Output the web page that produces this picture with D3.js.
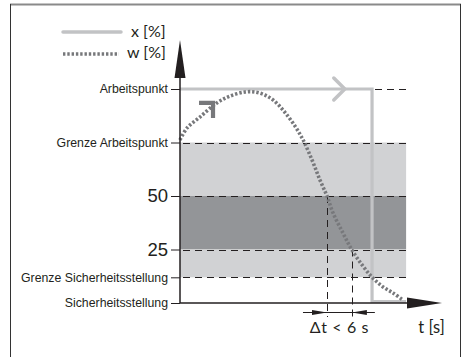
<!DOCTYPE html>
<html>
<head>
<meta charset="utf-8">
<script src="https://cdn.jsdelivr.net/npm/d3@7"></script>
<style>
  html,body{margin:0;padding:0;background:#fff;}
  svg{display:block;font-family:"Lato","Open Sans",sans-serif;}
</style>
</head>
<body>
<div id="chart"></div>
<script>
// levels on the y axis (percent of stroke)
const levelValues = [100, 75, 50, 25, 12, 0];
const levelLabels = ["Arbeitspunkt","Grenze Arbeitspunkt","50","25","Grenze Sicherheitsstellung","Sicherheitsstellung"];

// shaded bands [from, to]
const bandFrom = [75, 50, 25];
const bandTo   = [50, 25, 12];
const bandFill = ["#d1d2d4", "#939598", "#d1d2d4"];

// w [%] set point
const wT = [0,2.7,7.6,14.1,19.1,24.8,28.6,32.4,35.5,39.3,43.1,46.6,50.4,53.4,56.1,58.4,62.2,65.6,69.5,73.3,77.5,81.3,85.1];
const wV = [76.2,81.8,86.9,93.5,96.7,98.6,98.6,97.2,94.9,90.2,84.1,77.1,66.8,57.5,50,42.1,32.7,24.8,17.8,12.1,7.5,4.7,1.4];

// x [%] valve position
const xT = [0, 73.3, 73.3, 86.3];
const xV = [100, 100, 0.7, 0.7];

// the two crossing times (50 % and 25 %)
const crossT = [56.1, 65.6];

const W = 461, H = 357;
const svg = d3.select("#chart").append("svg").attr("width",W).attr("height",H);

const t = d3.scaleLinear().domain([0,100]).range([180,442]);
const y = d3.scaleLinear().domain([0,100]).range([303,89]);
const tEnd = 86.3; // right end of bands / dashed lines

// frame
svg.append("line").attr("x1",10).attr("x2",461).attr("y1",4.5).attr("y2",4.5)
  .attr("stroke","#8a8a8a").attr("stroke-width",2);
svg.append("line").attr("x1",10.5).attr("x2",10.5).attr("y1",4).attr("y2",H)
  .attr("stroke","#333").attr("stroke-width",1);
svg.append("line").attr("x1",460.5).attr("x2",460.5).attr("y1",4).attr("y2",H)
  .attr("stroke","#333").attr("stroke-width",1);

// bands
svg.selectAll(".band").data(bandFrom).enter().append("rect")
  .attr("x",t(0)).attr("width",t(tEnd)-t(0))
  .attr("y",(d)=>y(d))
  .attr("height",(d,i)=>y(bandTo[i])-y(d))
  .attr("fill",(d,i)=>bandFill[i]);

// dashed level lines
svg.selectAll(".lvl").data(levelValues.filter(v=>v>0)).enter().append("line")
  .attr("x1",t(0)+3).attr("x2",t(tEnd))
  .attr("y1",d=>Math.round(y(d))+0.5).attr("y2",d=>Math.round(y(d))+0.5)
  .attr("stroke","#231f20").attr("stroke-width",1)
  .attr("stroke-dasharray","7,5");

// vertical dashed lines to the dimension
svg.selectAll(".vd").data(crossT).enter().append("line")
  .attr("x1",d=>Math.round(t(d))+0.5).attr("x2",d=>Math.round(t(d))+0.5)
  .attr("y1",(d,i)=>y(levelValues[2+i])).attr("y2",317)
  .attr("stroke","#231f20").attr("stroke-width",1)
  .attr("stroke-dasharray","7,5");

// x line
const line = d3.line().x(d=>t(d[0])).y(d=>y(d[1]));
svg.append("path").datum(xT.map((d,i)=>[d,xV[i]]))
  .attr("d",line).attr("fill","none")
  .attr("stroke","#c2c3c5").attr("stroke-width",3.2);

// x chevron
const cx = t(62.9), cy = y(100);
svg.append("path")
  .attr("d","M"+(cx-11)+","+(cy-11)+"L"+cx+","+cy+"L"+(cx-11)+","+(cy+11))
  .attr("fill","none").attr("stroke","#c2c3c5").attr("stroke-width",3.5)
  .attr("stroke-linecap","round").attr("stroke-linejoin","round");

// w curve
const curve = d3.line().curve(d3.curveCatmullRom).x(d=>t(d[0])).y(d=>y(d[1]));
svg.append("path").datum(wT.map((d,i)=>[d,wV[i]]))
  .attr("d",curve).attr("fill","none")
  .attr("stroke","#77787b").attr("stroke-width",3.6)
  .attr("stroke-dasharray","2.4,1.9");

// w chevron
const wx = t(12.6), wy = y(93.5);
svg.append("path")
  .attr("d","M"+(wx-14)+","+wy+"L"+wx+","+wy+"L"+wx+","+(wy+15))
  .attr("fill","none").attr("stroke","#77787b").attr("stroke-width",4.2)
  .attr("stroke-linejoin","miter");

// y axis with labels
const yAxis = d3.axisLeft(y).tickValues(levelValues)
  .tickFormat((d,i)=>levelLabels[i]).tickSize(9).tickPadding(3);
const ya = svg.append("g").attr("transform","translate("+t(0)+",0)").call(yAxis);
ya.select(".domain").remove();
ya.selectAll(".tick line").attr("stroke","#231f20");
ya.selectAll(".tick text")
  .attr("fill","#231f20")
  .style("font-size",d=>(d===50||d===25)?"18.5px":"12.3px");

// axis lines and arrows
svg.append("line").attr("x1",t(0)).attr("x2",t(0)).attr("y1",y(0)).attr("y2",75)
  .attr("stroke","#231f20").attr("stroke-width",1.5);
svg.append("path").attr("d","M"+t(0)+",40L"+(t(0)+5.5)+",78L"+(t(0)-5.5)+",78Z").attr("fill","#231f20");
svg.append("line").attr("x1",t(0)).attr("x2",410).attr("y1",y(0)).attr("y2",y(0))
  .attr("stroke","#231f20").attr("stroke-width",1.5);
svg.append("path").attr("d","M442,"+y(0)+"L407,"+(y(0)-5.5)+"L407,"+(y(0)+5.5)+"Z").attr("fill","#231f20");

// dimension arrows
const dy = 312.5, a = t(crossT[0]), b = t(crossT[1]);
svg.append("line").attr("x1",a-24).attr("x2",b+23).attr("y1",dy).attr("y2",dy)
  .attr("stroke","#231f20").attr("stroke-width",1);
svg.append("path").attr("d","M"+a+","+dy+"L"+(a-15)+","+(dy-2.5)+"L"+(a-15)+","+(dy+2.5)+"Z").attr("fill","#231f20");
svg.append("path").attr("d","M"+b+","+dy+"L"+(b+15)+","+(dy-2.5)+"L"+(b+15)+","+(dy+2.5)+"Z").attr("fill","#231f20");

svg.append("text").attr("x",(a+b)/2).attr("y",333).attr("text-anchor","middle")
  .attr("fill","#231f20").style("font-size","16px").style("letter-spacing","0.6px").text("\u0394t < 6 s");
svg.append("text").attr("x",431.5).attr("y",333).attr("text-anchor","middle")
  .attr("fill","#231f20").style("font-size","16.5px").text("t [s]");

// legend
svg.append("line").attr("x1",63).attr("x2",121).attr("y1",32).attr("y2",32)
  .attr("stroke","#c2c3c5").attr("stroke-width",3.5).attr("stroke-linecap","round");
svg.append("line").attr("x1",63).attr("x2",119).attr("y1",54).attr("y2",54)
  .attr("stroke","#77787b").attr("stroke-width",3.4).attr("stroke-dasharray","2.4,1.9");
svg.append("text").attr("x",131).attr("y",37).attr("fill","#231f20").style("font-size","16px").text("x [%]");
svg.append("text").attr("x",127).attr("y",58).attr("fill","#231f20").style("font-size","16px").text("w [%]");
</script>
</body>
</html>
